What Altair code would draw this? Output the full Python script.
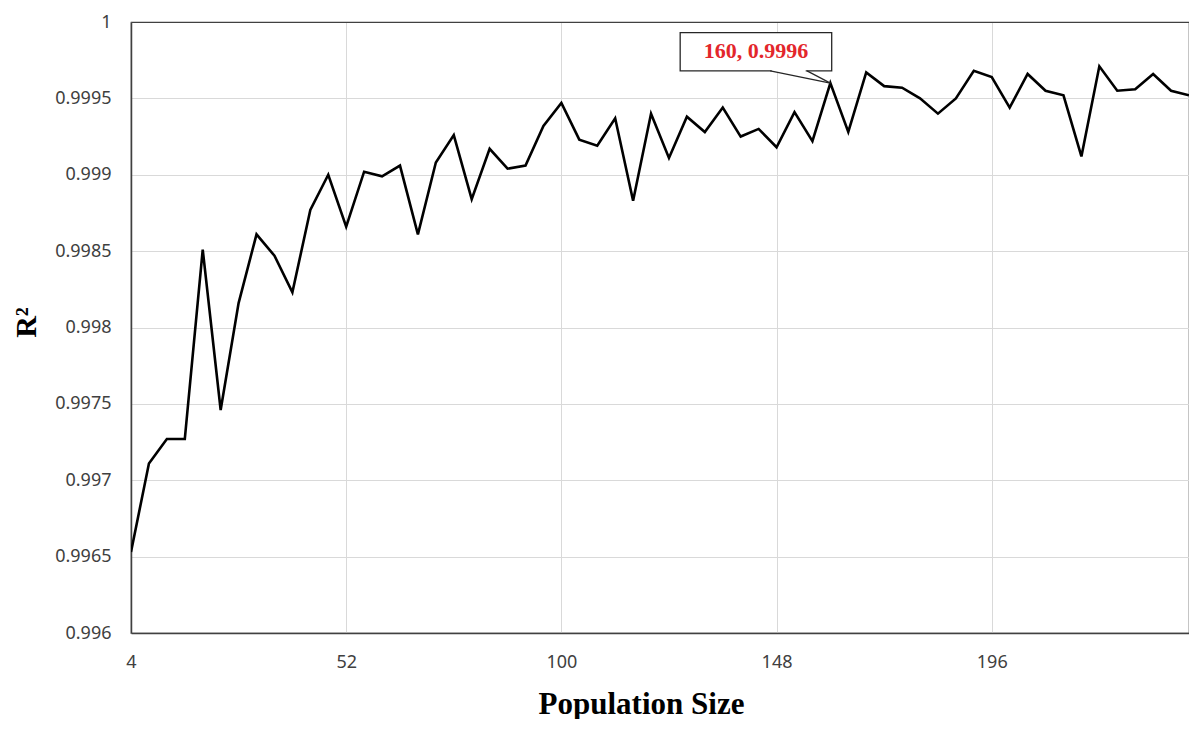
import altair as alt
import pandas as pd

# ---- data ----
population = [4, 8, 12, 16, 20, 24, 28, 32, 36, 40, 44, 48, 52, 56, 60, 64, 68, 72, 76, 80,
              84, 88, 92, 96, 100, 104, 108, 112, 116, 120, 124, 128, 132, 136, 140, 144, 148, 152, 156, 160,
              164, 168, 172, 176, 180, 184, 188, 192, 196, 200, 204, 208, 212, 216, 220, 224, 228, 232, 236, 240]
r2 = [0.99653, 0.99711, 0.99727, 0.99727, 0.99851, 0.99746, 0.99816, 0.99861, 0.99847, 0.99823,
      0.99877, 0.99900, 0.99866, 0.99902, 0.99899, 0.99906, 0.99861, 0.99908, 0.99926, 0.99884,
      0.99917, 0.99904, 0.99906, 0.99932, 0.99947, 0.99923, 0.99919, 0.99937, 0.99883, 0.99940,
      0.99911, 0.99938, 0.99928, 0.99944, 0.99925, 0.99930, 0.99918, 0.99941, 0.99922, 0.99960,
      0.99928, 0.99967, 0.99958, 0.99957, 0.99950, 0.99940, 0.99950, 0.99968, 0.99964, 0.99944,
      0.99966, 0.99955, 0.99952, 0.99912, 0.99971, 0.99955, 0.99956, 0.99966, 0.99955, 0.99952]
x_ticks = [4, 52, 100, 148, 196]
y_ticks = [0.996, 0.9965, 0.997, 0.9975, 0.998, 0.9985, 0.999, 0.9995, 1.0]

# annotation callout (data coordinates)
ann_point_x = 160
ann_point_y = 0.9996
ann_label = "160, 0.9996"
box_x = [126.5, 160.3]
box_y = [0.99968, 0.99993]
ptr_base_x = [146.6, 154.8]
text_x = 143.4
text_y = 0.99981

X_TITLE = "Population Size"
Y_TITLE = "R²"

df = pd.DataFrame({"pop": population, "r2": r2})

x_scale = alt.Scale(domain=[4, 240], nice=False, zero=False)
y_scale = alt.Scale(domain=[0.996, 1.0], nice=False, zero=False)

line = alt.Chart(df).mark_line(color="black", strokeWidth=2.6, clip=True).encode(
    x=alt.X("pop:Q", scale=x_scale, title=X_TITLE,
            axis=alt.Axis(values=x_ticks, labelFlush=False,
                          labelPadding=20, titleFontSize=31, titleX=510, titleY=80,
                          titleBaseline="alphabetic", titleAlign="center")),
    y=alt.Y("r2:Q", scale=y_scale, title=Y_TITLE,
            axis=alt.Axis(values=y_ticks, format=".4~f", labelPadding=20,
                          gridColor={"condition": {"test": "datum.value >= 1", "value": "#404040"},
                                     "value": "#d9d9d9"},
                          titleFontSize=30, titleAngle=-90, titleX=-120, titleY=300,
                          titleBaseline="top", titleAlign="center")),
)

box_df = pd.DataFrame({"pop": [box_x[0]], "pop2": [box_x[1]], "r2": [box_y[0]], "r22": [box_y[1]]})
box = alt.Chart(box_df).mark_rect(fill="white", stroke="#262626", strokeWidth=1.3).encode(
    x=alt.X("pop:Q", scale=x_scale, title=X_TITLE), x2="pop2:Q",
    y=alt.Y("r2:Q", scale=y_scale, title=Y_TITLE), y2="r22:Q",
)

erase_df = pd.DataFrame({"pop": [ptr_base_x[0] + 0.3], "pop2": [ptr_base_x[1] - 0.3], "r2": [box_y[0]]})
erase = alt.Chart(erase_df).mark_rule(color="white", strokeWidth=3).encode(
    x=alt.X("pop:Q", scale=x_scale, title=X_TITLE), x2="pop2:Q",
    y=alt.Y("r2:Q", scale=y_scale, title=Y_TITLE),
)

ptr_df = pd.DataFrame({
    "pop": ptr_base_x,
    "r2": [box_y[0], box_y[0]],
    "pop2": [ann_point_x, ann_point_x],
    "r22": [ann_point_y, ann_point_y],
})
pointer = alt.Chart(ptr_df).mark_rule(color="#262626", strokeWidth=1.2).encode(
    x=alt.X("pop:Q", scale=x_scale, title=X_TITLE), x2="pop2:Q",
    y=alt.Y("r2:Q", scale=y_scale, title=Y_TITLE), y2="r22:Q",
)

text_df = pd.DataFrame({"pop": [text_x], "r2": [text_y], "label": [ann_label]})
text = alt.Chart(text_df).mark_text(font="Liberation Serif", fontWeight="bold", fontSize=22,
                                    color="#e3262b", baseline="middle", align="center").encode(
    x=alt.X("pop:Q", scale=x_scale, title=X_TITLE),
    y=alt.Y("r2:Q", scale=y_scale, title=Y_TITLE),
    text="label:N",
)

chart = alt.layer(line, box, erase, pointer, text).properties(
    width=1058, height=611,
    padding={"left": 3, "top": 5, "right": 0, "bottom": 0},
    background="white",
).configure_view(
    stroke="#404040", strokeWidth=1.2
).configure_axis(
    grid=True, gridColor="#d9d9d9", gridWidth=1,
    domainColor="#404040", domainWidth=1.5,
    ticks=False, tickSize=0,
    labelFont="Noto Sans", labelFontSize=18, labelColor="#404040",
    titleFont="Liberation Serif", titleFontWeight="bold", titleColor="black",
)

chart.save("out.html", embed_options={"renderer": "svg", "actions": False})
